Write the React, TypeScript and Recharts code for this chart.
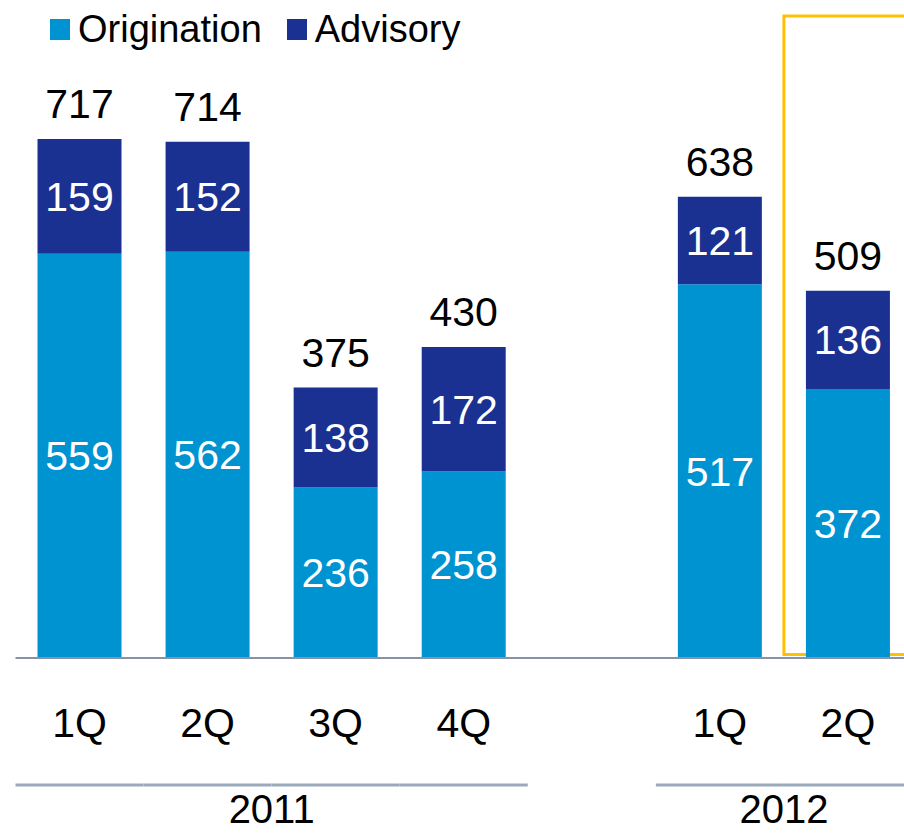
import { BarChart, Bar, XAxis, YAxis, LabelList, ReferenceArea } from 'recharts'

// categories, with an empty slot between the two years
const quarterKeys = ['1Q11', '2Q11', '3Q11', '4Q11', 'gap', '1Q12', '2Q12']
const quarterLabels = ['1Q', '2Q', '3Q', '4Q', '', '1Q', '2Q']
const years = ['2011', '2011', '2011', '2011', '', '2012', '2012']

const origination = [559, 562, 236, 258, null, 517, 372]
const advisory = [159, 152, 138, 172, null, 121, 136]
const totals = [717, 714, 375, 430, null, 638, 509]

const ORIG = '#0093D1'
const ADV = '#1B3191'
const FONT = '"Liberation Sans", Arial, sans-serif'

const data = quarterKeys.map((key, i) => ({
  key,
  orig: origination[i],
  adv: advisory[i],
  total: totals[i],
}))

function QuarterTick(props: any) {
  const { x, y, index, payload } = props
  const half = payload?.offset ?? 64
  const year = years[index]
  const isFirst = year && years[index - 1] !== year
  let yearX = 0
  if (isFirst) {
    const count = years.filter((v) => v === year).length
    yearX = x - half + count * half
  }
  return (
    <g>
      <text x={x} y={y + 79} textAnchor="middle" fontSize={41} fontFamily={FONT} fill="#000">
        {quarterLabels[index]}
      </text>
      {year && (
        <line x1={x - half} x2={x + half} y1={y + 127} y2={y + 127} stroke="#9AAABB" strokeWidth={3} />
      )}
      {isFirst && (
        <text x={yearX} y={y + 165} textAnchor="middle" fontSize={40} fontFamily={FONT} fill="#000">
          {year}
        </text>
      )}
    </g>
  )
}

export default function App() {
  return (
    <div style={{ position: 'absolute', left: 0, top: 0, width: 904, height: 833, overflow: 'hidden', background: '#fff' }}>
      <BarChart
        width={912}
        height={833}
        data={data}
        margin={{ top: 16, right: 0, left: 15.5, bottom: 0 }}
        barCategoryGap={22}
      >
        <YAxis hide domain={[0, 888]} />
        <XAxis
          dataKey="key"
          height={175}
          tickLine={false}
          tickSize={0}
          tickMargin={0}
          interval={0}
          axisLine={{ stroke: '#8394A6', strokeWidth: 2 }}
          tick={<QuarterTick />}
        />
        <ReferenceArea
          x1="2Q12"
          x2="2Q12"
          y1={5}
          y2={888}
          fill="none"
          stroke="#FFC000"
          strokeWidth={3}
          ifOverflow="visible"
        />
        <Bar dataKey="orig" stackId="a" fill={ORIG} isAnimationActive={false}>
          <LabelList dataKey="orig" position="center" fill="#fff" fontSize={41} fontFamily={FONT} />
        </Bar>
        <Bar dataKey="adv" stackId="a" fill={ADV} isAnimationActive={false}>
          <LabelList dataKey="adv" position="center" fill="#fff" fontSize={41} fontFamily={FONT} />
          <LabelList dataKey="total" position="top" offset={21} fill="#000" fontSize={41} fontFamily={FONT} />
        </Bar>
      </BarChart>
      <div
        style={{
          position: 'absolute',
          left: 50,
          top: 8,
          display: 'flex',
          alignItems: 'center',
          fontFamily: FONT,
          fontSize: 38,
          color: '#000',
        }}
      >
        {[
          { name: 'Origination', color: ORIG },
          { name: 'Advisory', color: ADV },
        ].map((s) => (
          <span key={s.name} style={{ display: 'flex', alignItems: 'center', marginRight: 25 }}>
            <span style={{ width: 20, height: 21, background: s.color, marginRight: 8, display: 'inline-block' }} />
            {s.name}
          </span>
        ))}
      </div>
    </div>
  )
}
